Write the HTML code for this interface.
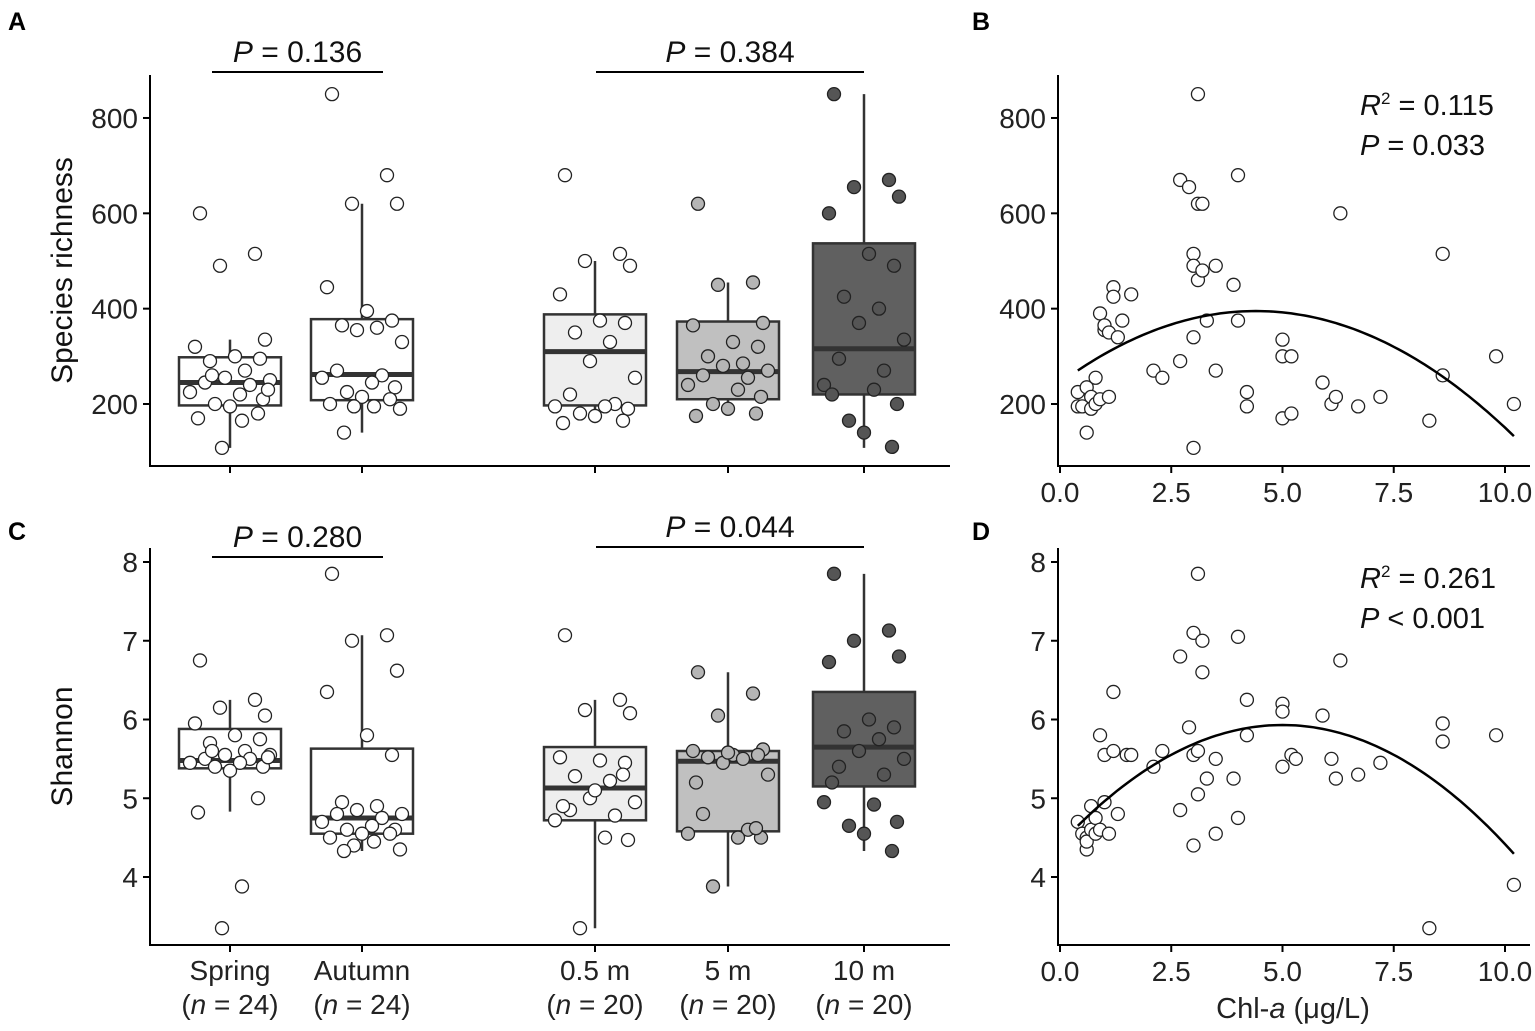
<!DOCTYPE html>
<html><head><meta charset="utf-8"><style>
body{margin:0;background:#fff}
svg{display:block;font-family:"Liberation Sans",Arial,sans-serif}
</style></head><body>
<svg id="fig" width="1535" height="1031" xmlns="http://www.w3.org/2000/svg"></svg>
<script>
// ---- data ----
const groups = ["Spring","Autumn","0.5 m","5 m","10 m"];
const groupN = ["24","24","20","20","20"];
const richBox = [ // [whiskerLo, q1, median, q3, whiskerHi]
 [108,197,245,298,335],[140,208,262,378,620],[160,197,310,388,500],[175,210,268,373,455],[108,220,316,537,850]];
const richPts = [
 [600,515,490,335,320,300,295,290,270,255,250,245,240,225,220,210,200,195,180,170,165,108,230,260],
 [850,680,620,620,445,395,375,365,360,355,330,270,260,255,245,235,225,215,210,200,195,195,190,140],
 [680,515,500,490,430,375,370,350,330,290,255,220,200,195,195,190,180,175,165,160],
 [620,455,450,370,365,330,320,300,285,280,270,260,255,240,230,215,200,190,180,175],
 [850,670,655,635,600,515,490,425,400,370,335,295,270,240,230,200,165,140,110,220]];
const shanBox = [[4.83,5.38,5.48,5.88,6.25],[4.33,4.55,4.75,5.63,7.07],[3.35,4.72,5.13,5.65,6.25],[3.88,4.58,5.47,5.6,6.6],[4.33,5.15,5.65,6.35,7.85]];
const shanPts = [
 [6.75,6.25,6.15,6.05,5.95,5.8,5.75,5.7,5.6,5.55,5.55,5.5,5.5,5.45,5.45,5.4,5.4,5.35,5.0,4.82,3.88,3.35,5.52,5.6],
 [7.85,7.07,7.0,6.62,6.35,5.8,5.55,4.95,4.9,4.85,4.8,4.8,4.75,4.7,4.65,4.6,4.6,4.55,4.55,4.5,4.45,4.4,4.35,4.33],
 [7.07,6.25,6.12,6.08,5.52,5.48,5.45,5.28,5.22,5.0,4.95,4.85,4.78,4.72,4.5,4.47,3.35,5.1,5.3,4.9],
 [6.6,6.33,6.05,5.62,5.6,5.55,5.55,5.52,5.5,5.45,5.3,4.8,4.6,4.55,4.5,4.5,3.88,5.58,4.62,5.2],
 [7.85,7.13,7.0,6.8,6.73,6.0,5.9,5.85,5.75,5.6,5.5,5.4,5.3,4.95,4.92,4.7,4.65,4.55,4.33,5.2]];
const jitter = [-0.3,0.25,-0.1,0.35,-0.35,0.05,0.3,-0.2,0.15,-0.05,0.4,-0.25,0.2,-0.4,0.1,0.33,-0.15,0.0,0.28,-0.32,0.12,-0.08,0.38,-0.18];
const chlB = [0.4,0.4,0.5,0.6,0.6,0.7,0.7,0.8,0.8,0.9,0.9,1.0,1.0,1.1,1.1,1.2,1.2,1.3,1.4,1.6,2.1,2.3,2.7,2.7,2.9,3.0,3.0,3.0,3.0,3.1,3.1,3.1,3.2,3.2,3.3,3.5,3.5,4.0,4.0,3.9,4.2,4.2,5.0,5.0,5.0,5.2,5.2,5.9,6.1,6.2,6.3,6.7,7.2,8.3,8.6,8.6,9.8,10.2];
const richB = [225,195,195,140,235,215,190,255,200,210,390,355,365,215,350,445,425,340,375,430,270,255,670,290,655,108,515,490,340,620,850,460,620,480,375,490,270,680,375,450,225,195,335,300,170,300,180,245,200,215,600,195,215,165,515,260,300,200];
const chlD = [0.4,0.5,0.6,0.6,0.6,0.7,0.7,0.8,0.8,0.9,0.9,1.0,1.0,1.1,1.2,1.2,1.3,1.5,1.6,2.1,2.3,2.7,2.7,2.9,3.0,3.0,3.0,3.1,3.1,3.1,3.2,3.2,3.3,3.5,3.5,3.9,4.0,4.0,4.2,4.2,5.0,5.0,5.0,5.2,5.3,5.9,6.1,6.2,6.3,6.7,7.2,8.3,8.6,8.6,9.8,10.2];
const shanD = [4.7,4.55,4.35,4.5,4.45,4.9,4.6,4.55,4.75,4.6,5.8,4.95,5.55,4.55,6.35,5.6,4.8,5.55,5.55,5.4,5.6,6.8,4.85,5.9,7.1,4.4,5.55,7.85,5.6,5.05,7.0,6.6,5.25,5.5,4.55,5.25,7.05,4.75,6.25,5.8,6.2,6.1,5.4,5.55,5.5,6.05,5.5,5.25,6.75,5.3,5.45,3.35,5.95,5.72,5.8,3.9];
const fitB = [395,4.4,7.8]; // vertex y, vertex x, curvature
const fitD = [5.93,5.0,0.0605];
const richTicks=[200,400,600,800], shanTicks=[4,5,6,7,8], chlTicks=[0,2.5,5,7.5,10];

// ---- helpers ----
const NS="http://www.w3.org/2000/svg", svg=document.getElementById('fig');
function el(t,a,p){const e=document.createElementNS(NS,t);for(const k in a)e.setAttribute(k,a[k]);(p||svg).appendChild(e);return e;}
function txt(s,a,p){const e=el('text',a,p);e.innerHTML=s;return e;}
const gx=[230,362,595,728,864];
const yA=v=>404-(v-200)*0.4767;
const yC=v=>877-(v-4)*78.75;
const xS=v=>1060+v*44.5;
const fills=[["#fff","#fff"],["#fff","#fff"],["#eeeeee","#fff"],["#c0c0c0","#b5b5b5"],["#606060","#555"]];

function boxPanel(name,box,pts,ys,ticks,top,bottom,title,fmt){
  const g=el('g',{});
  
  el('line',{x1:150,y1:top,x2:150,y2:bottom,stroke:'#000','stroke-width':2},g);
  el('line',{x1:149,y1:bottom,x2:950,y2:bottom,stroke:'#000','stroke-width':2},g);
  ticks.forEach(t=>{el('line',{x1:143,y1:ys(t),x2:150,y2:ys(t),stroke:'#000','stroke-width':2},g);
    const l=txt(fmt(t),{x:138,y:ys(t)+10,'text-anchor':'end','font-size':28,fill:'#222'},g);
    });
  gx.forEach(x=>el('line',{x1:x,y1:bottom,x2:x,y2:bottom+7,stroke:'#000','stroke-width':2},g));
  const tt=txt(title,{transform:`translate(72,${(top+bottom)/2}) rotate(-90)`,'text-anchor':'middle','font-size':30,fill:'#111'},g);
  
  box.forEach((b,i)=>{const x=gx[i];
    const bg=el('g',{},g);
    
    el('line',{x1:x,y1:ys(b[0]),x2:x,y2:ys(b[4]),stroke:'#333','stroke-width':2.5},bg);
    el('rect',{x:x-51,y:ys(b[3]),width:102,height:ys(b[1])-ys(b[3]),fill:fills[i][0],stroke:'#333','stroke-width':2.5},bg);
    el('line',{x1:x-51,y1:ys(b[2]),x2:x+51,y2:ys(b[2]),stroke:'#333','stroke-width':5},bg);
    pts[i].forEach((v,j)=>{const c=el('circle',{cx:x+jitter[j%jitter.length]*100,cy:ys(v),r:6.5,fill:fills[i][1],stroke:'#222','stroke-width':1.3},bg);
      });
  });
  return g;
}
function scatPanel(name,xs,ys_,yfn,ticks,top,bottom,fit,fmt,r2,p){
  const g=el('g',{});
  
  el('line',{x1:1058,y1:top,x2:1058,y2:bottom,stroke:'#000','stroke-width':2},g);
  el('line',{x1:1057,y1:bottom,x2:1530,y2:bottom,stroke:'#000','stroke-width':2},g);
  ticks.forEach(t=>{el('line',{x1:1051,y1:yfn(t),x2:1058,y2:yfn(t),stroke:'#000','stroke-width':2},g);
    const l=txt(fmt(t),{x:1046,y:yfn(t)+10,'text-anchor':'end','font-size':28,fill:'#222'},g);
    });
  chlTicks.forEach(t=>{el('line',{x1:xS(t),y1:bottom,x2:xS(t),y2:bottom+7,stroke:'#000','stroke-width':2},g);
    const l=txt(t.toFixed(1),{x:xS(t),y:bottom+36,'text-anchor':'middle','font-size':28,fill:'#222'},g);
    });
  xs.forEach((x,i)=>{const c=el('circle',{cx:xS(x),cy:yfn(ys_[i]),r:6.5,fill:'#fff',stroke:'#222','stroke-width':1.3},g);
    });
  let d='';for(let x=0.4;x<=10.21;x+=0.1){const v=fit[0]-fit[2]*(x-fit[1])**2;d+=(d?'L':'M')+xS(x).toFixed(1)+','+yfn(v).toFixed(1);}
  const f=el('path',{d,fill:'none',stroke:'#000','stroke-width':2.5},g);
  
  const a=txt(`<tspan font-style="italic">R</tspan><tspan font-size="17" dy="-11">2</tspan><tspan dy="11"> = ${r2}</tspan>`,{x:1360,y:top+40,'font-size':29,fill:'#111'},g);
  
  const b=txt(`<tspan font-style="italic">P</tspan> ${p}`,{x:1360,y:top+80,'font-size':29,fill:'#111'},g);
  
}
function bracket(x1,x2,y,label,name){
  const g=el('g',{});
  
  el('line',{x1,y1:y,x2,y2:y,stroke:'#000','stroke-width':2},g);
  txt(`<tspan font-style="italic">P</tspan> = ${label}`,{x:(x1+x2)/2,y:y-10,'text-anchor':'middle','font-size':30,fill:'#111'},g);
}
boxPanel('panel-a',richBox,richPts,yA,richTicks,75,466,'Species  richness',t=>t);
boxPanel('panel-c',shanBox,shanPts,yC,shanTicks,548,945,'Shannon',t=>t);
bracket(212,383,72,'0.136','bracket-season-a');
bracket(596,864,72,'0.384','bracket-depth-a');
bracket(212,383,557,'0.280','bracket-season-c');
bracket(596,864,547,'0.044','bracket-depth-c');
scatPanel('panel-b',chlB,richB,yA,richTicks,75,466,fitB,t=>t,'0.115','= 0.033');
scatPanel('panel-d',chlD,shanD,yC,shanTicks,548,945,fitD,t=>t,'0.261','&lt; 0.001');
groups.forEach((g,i)=>{
  const a=txt(g,{x:gx[i],y:980,'text-anchor':'middle','font-size':28,fill:'#222'});
  
  const b=txt(`(<tspan font-style="italic">n</tspan> = ${groupN[i]})`,{x:gx[i],y:1014,'text-anchor':'middle','font-size':28,fill:'#222'});
  
});
const xt=txt('Chl-<tspan font-style="italic">a</tspan> (μg/L)',{x:1293,y:1018,'text-anchor':'middle','font-size':29,fill:'#222'});

[['A',8,30],['B',972,30],['C',8,540],['D',972,540]].forEach(l=>{
  const t=txt(l[0],{x:l[1],y:l[2],'font-size':25,'font-weight':'bold',fill:'#000'});
  
});
</script>
</body></html>
